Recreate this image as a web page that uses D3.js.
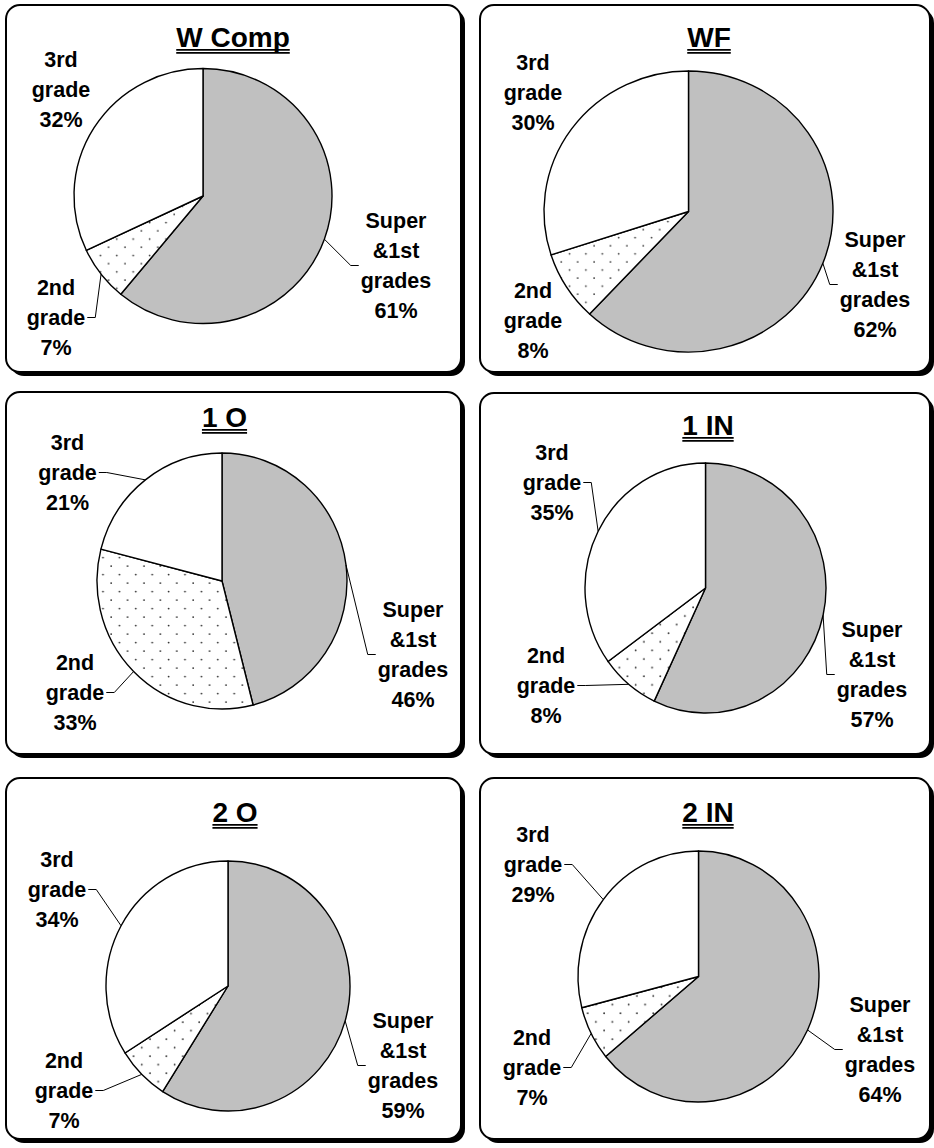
<!DOCTYPE html>
<html>
<head>
<meta charset="utf-8">
<script src="https://cdn.jsdelivr.net/npm/d3@7/dist/d3.min.js"></script>
<style>
  html, body { margin: 0; padding: 0; background: #fff; }
  svg { display: block; }
  text { font-family: "Liberation Sans", Arial, Helvetica, sans-serif; font-weight: bold; fill: #000; }
</style>
</head>
<body>
<svg id="chart" width="934" height="1148"></svg>
<script>
// Grade distribution per sample, in percent
const panelTitles = ["W Comp", "WF", "1 O", "1 IN", "2 O", "2 IN"];
const categories = ["Super &1st grades", "2nd grade", "3rd grade"];
const categoryLines = [["Super", "&1st", "grades"], ["2nd", "grade"], ["3rd", "grade"]];
const superFirstPct = [61, 62, 46, 57, 59, 64];
const secondPct = [7, 8, 33, 8, 7, 7];
const thirdPct = [32, 30, 21, 35, 34, 29];

// Page layout: frames, pie placement, titles and label blocks
const frames = [
  { x: 6, y: 5, w: 455, h: 367 }, { x: 480, y: 5, w: 450, h: 367 },
  { x: 6, y: 392, w: 455, h: 362 }, { x: 480, y: 393, w: 450, h: 361 },
  { x: 6, y: 778, w: 455, h: 361 }, { x: 480, y: 778, w: 450, h: 361 }
];
const pieGeom = [
  { cx: 203, cy: 196, rx: 129, ry: 127.5 }, { cx: 688.5, cy: 211.5, rx: 144.5, ry: 140.5 },
  { cx: 222, cy: 581, rx: 125, ry: 128 }, { cx: 705.5, cy: 588, rx: 120.5, ry: 125 },
  { cx: 228, cy: 986, rx: 122, ry: 125 }, { cx: 698.5, cy: 976.5, rx: 120.5, ry: 125.5 }
];
const titlePos = [[233, 47], [709, 47], [224.5, 427], [708, 435], [235, 822], [708, 822]];
// label block: [centre x, first baseline, draw leader]
const labelPos = [
  [[396, 228, true], [56, 295, true], [61, 67, false]],
  [[875, 247, true], [533, 298, false], [533, 70, false]],
  [[413, 617, true], [75, 670, true], [67.5, 450, true]],
  [[872, 637, true], [546, 663, true], [552, 460, true]],
  [[403, 1028, true], [64, 1068, true], [57, 867, true]],
  [[880, 1012, true], [532, 1045, true], [533, 842, true]]
];

const fills = ["#C0C0C0", "url(#dots)", "#FFFFFF"];
const lineGap = 30, capH = 15, labelSize = 21.5, titleSize = 28;

const svg = d3.select("#chart");
const defs = svg.append("defs");
const pat = defs.append("pattern").attr("id", "dots")
  .attr("patternUnits", "userSpaceOnUse").attr("width", 16.4).attr("height", 16.6);
pat.append("rect").attr("width", 16.4).attr("height", 16.6).attr("fill", "#fff");
pat.append("circle").attr("cx", 4).attr("cy", 2).attr("r", 0.9).attr("fill", "#333");
pat.append("circle").attr("cx", 12.2).attr("cy", 10.3).attr("r", 0.9).attr("fill", "#333");

const pie = d3.pie().sort(null).value(d => d.value).startAngle(0).endAngle(2 * Math.PI);

panelTitles.forEach((title, i) => {
  const f = frames[i];
  const g = svg.append("g");

  // frame with drop shadow
  g.append("rect").attr("x", f.x + 4).attr("y", f.y + 4).attr("width", f.w).attr("height", f.h)
    .attr("rx", 14).attr("fill", "#000");
  g.append("rect").attr("x", f.x).attr("y", f.y).attr("width", f.w).attr("height", f.h)
    .attr("rx", 14).attr("fill", "#fff").attr("stroke", "#000").attr("stroke-width", 2);

  // title with double underline
  const [tx, ty] = titlePos[i];
  const t = g.append("text").attr("x", tx).attr("y", ty).attr("text-anchor", "middle")
    .attr("font-size", titleSize).text(title);
  const tw = t.node().getComputedTextLength();
  [2.8, 5.8].forEach(off => {
    g.append("line").attr("x1", tx - tw / 2).attr("x2", tx + tw / 2)
      .attr("y1", ty + off).attr("y2", ty + off)
      .attr("stroke", "#000").attr("stroke-width", 1.7);
  });

  // pie
  const p = pieGeom[i];
  const data = [
    { cat: 0, value: superFirstPct[i] },
    { cat: 1, value: secondPct[i] },
    { cat: 2, value: thirdPct[i] }
  ];
  const arcs = pie(data);
  const arc = d3.arc().innerRadius(0).outerRadius(p.rx);
  const pg = g.append("g")
    .attr("transform", `translate(${p.cx},${p.cy}) scale(1,${p.ry / p.rx})`);
  pg.selectAll("path").data(arcs).join("path")
    .attr("d", arc)
    .attr("fill", d => fills[d.data.cat])
    .attr("stroke", "#000").attr("stroke-width", 1.4)
    .attr("stroke-linejoin", "round")
    .attr("vector-effect", "non-scaling-stroke");

  // labels and leader lines
  arcs.forEach(a => {
    const c = a.data.cat;
    const [lx, ly, leader] = labelPos[i][c];
    const lines = categoryLines[c].concat([a.data.value + "%"]);
    const lg = g.append("g");
    let maxW = 0;
    lines.forEach((s, k) => {
      const el = lg.append("text").attr("x", lx).attr("y", ly + k * lineGap)
        .attr("text-anchor", "middle").attr("font-size", labelSize).text(s);
      maxW = Math.max(maxW, el.node().getComputedTextLength());
    });
    if (!leader) return;
    const mid = (a.startAngle + a.endAngle) / 2;
    const ax = p.cx + Math.sin(mid) * p.rx;
    const ay = p.cy - Math.cos(mid) * p.ry;
    const midY = (ly - capH + ly + (lines.length - 1) * lineGap) / 2;
    const leftSide = lx < p.cx;
    const edge = leftSide ? lx + maxW / 2 + 2 : lx - maxW / 2 - 2;
    const elbow = leftSide ? edge + 8 : edge - 8;
    g.append("path")
      .attr("d", d3.line()([[edge, midY], [elbow, midY], [ax, ay]]))
      .attr("fill", "none").attr("stroke", "#000").attr("stroke-width", 1);
  });
});
</script>
</body>
</html>
